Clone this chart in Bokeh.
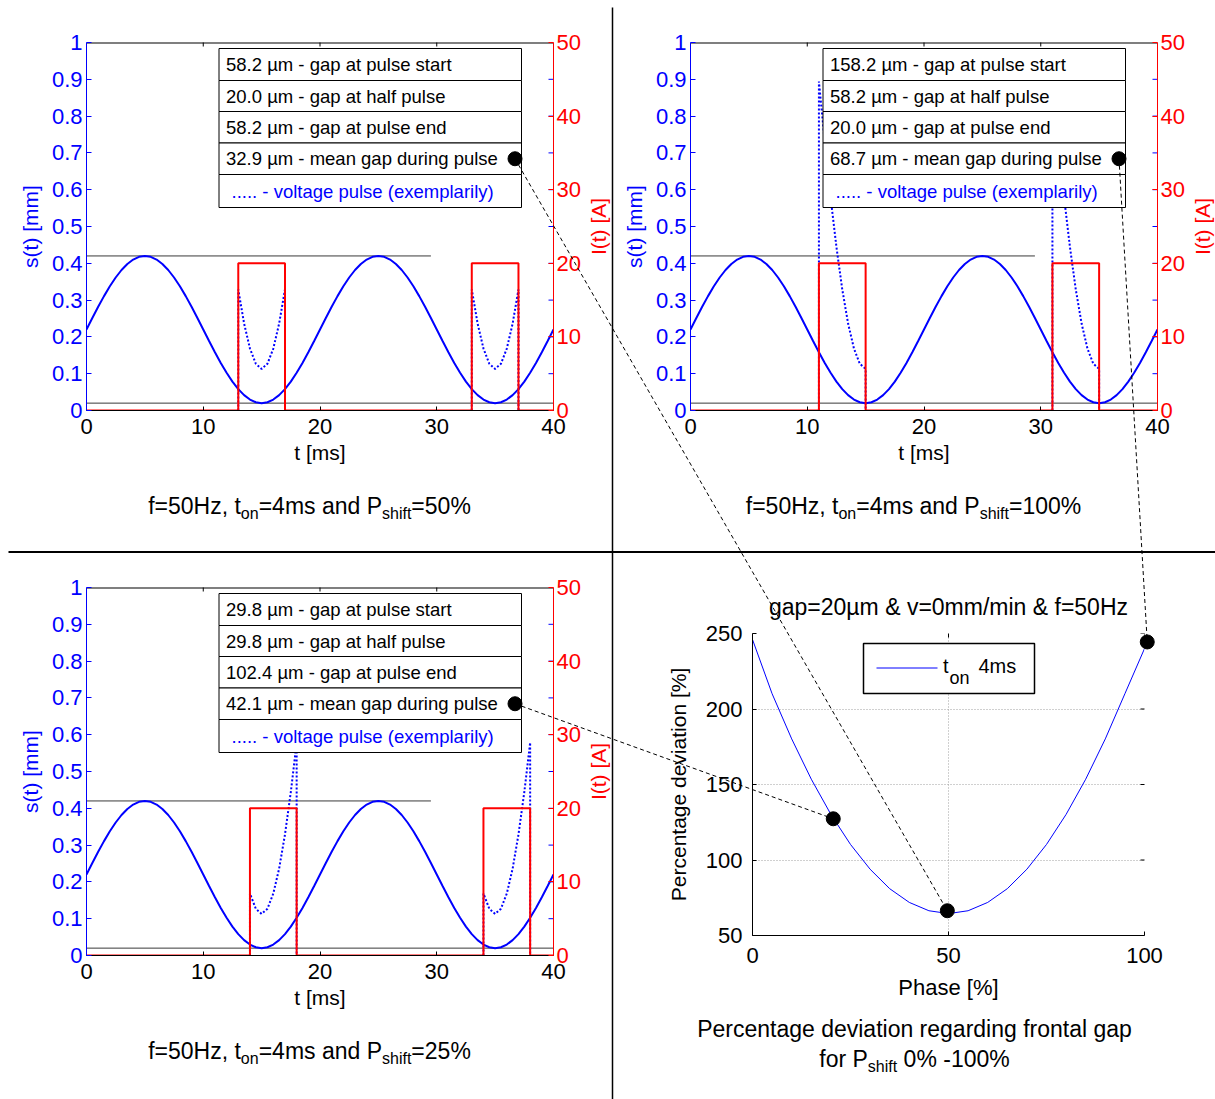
import math

from bokeh.core.properties import value
from bokeh.embed import file_html
from bokeh.models import FixedTicker, Grid, LinearAxis, Range1d
from bokeh.plotting import figure
from bokeh.resources import INLINE

FONT = "Liberation Sans"
BLUE = "#0000ff"
RED = "#ff0000"

# ---------------------------------------------------------------- data
# electrode gap over one vibration period (f = 50 Hz), sampled every 0.5 ms
SAMPLE_STEP_MS = 0.5
GAP_ONE_PERIOD_MM = [
    0.2200, 0.2513, 0.2818, 0.3108, 0.3376, 0.3614, 0.3818, 0.3982, 0.4102, 0.4175,
    0.4200, 0.4175, 0.4102, 0.3982, 0.3818, 0.3614, 0.3376, 0.3108, 0.2818, 0.2513,
    0.2200, 0.1887, 0.1582, 0.1292, 0.1024, 0.0786, 0.0582, 0.0418, 0.0298, 0.0225,
    0.0200, 0.0225, 0.0298, 0.0418, 0.0582, 0.0786, 0.1024, 0.1292, 0.1582, 0.1887,
]
T_END_MS = 40
T_ON_MS = 4
PULSE_CURRENT_A = 20
VOLTAGE_SCALE = 5.65          # dotted voltage pulse, drawn on the gap axis
MAX_GAP_MM = 0.42
MIN_GAP_MM = 0.02
MAX_GAP_LINE_END_MS = 29.5

SHIFT_LABELS = ["50%", "100%", "25%"]
PULSE_STARTS_MS = [[13, 33], [11, 31], [14, 34]]
GAP_START_UM = [58.2, 158.2, 29.8]
GAP_HALF_UM = [20.0, 58.2, 29.8]
GAP_END_UM = [58.2, 20.0, 102.4]
GAP_MEAN_UM = [32.9, 68.7, 42.1]

PHASE_PCT = [0, 5, 10, 15, 20, 25, 30, 35, 40, 45, 50, 55, 60, 65, 70, 75, 80, 85, 90, 95, 100]
DEVIATION_PCT = [246.0, 210.1, 180.2, 153.5, 130.2, 110.3, 93.9, 81.0, 71.9, 66.4, 64.5,
                 66.4, 71.9, 81.0, 93.9, 110.3, 130.2, 153.5, 180.2, 210.1, 240.0]
MARKED_PHASE = [20.6, 49.7, 100.7]
MARKED_DEV = [127.3, 66.4, 244.4]

S_TICKS = [0, 0.1, 0.2, 0.3, 0.4, 0.5, 0.6, 0.7, 0.8, 0.9, 1]
I_TICKS = [0, 10, 20, 30, 40, 50]
T_TICKS = [0, 10, 20, 30, 40]
PHASE_TICKS = [0, 50, 100]
DEV_TICKS = [50, 100, 150, 200, 250]

# ---------------------------------------------------------------- geometry
FW, FH = 467, 368                      # frame of each gap panel
QUAD_W = [611, 604]
QUAD_H = [551, 548]
# (column, row, frame left, frame top) of the three gap panels
PANELS = [(0, 0, 86, 42), (1, 0, 79, 42), (0, 1, 86, 36)]
BR_LEFT, BR_TOP, BR_W, BR_H = 141, 82, 392, 302

ARIAL_ADV = {
    " ": 278, ",": 278, "-": 333, "%": 889, "=": 584, ".": 278,
    "0": 556, "1": 556, "2": 556, "3": 556, "4": 556, "5": 556, "6": 556, "7": 556,
    "8": 556, "9": 556, "H": 722, "P": 667, "a": 556, "d": 556, "f": 278, "h": 556,
    "i": 222, "m": 833, "n": 556, "o": 556, "r": 333, "s": 500, "t": 278, "z": 500,
}


def run_width(txt, size):
    return sum(ARIAL_ADV[c] for c in txt) * size / 1000.0


def placed(x, y):
    return {"position": "absolute", "left": f"{x}px", "top": f"{y}px"}


def style_axis(ax, color, size="22px", label_size="21px"):
    ax.axis_line_color = color
    ax.major_tick_line_color = color
    ax.major_label_text_color = color
    ax.major_label_text_font = FONT
    ax.major_label_text_font_size = size
    ax.axis_label_text_font = FONT
    ax.axis_label_text_font_size = label_size
    ax.axis_label_text_font_style = "normal"
    ax.axis_label_text_color = color
    ax.minor_tick_line_color = None
    ax.major_tick_in = 5
    ax.major_tick_out = 0


def gap_panel(k):
    col, row, fl, ft = PANELS[k]
    qw, qh = QUAD_W[col], QUAD_H[row]
    p = figure(frame_width=FW, frame_height=FH,
               min_border_left=fl, min_border_right=qw - fl - FW,
               min_border_top=ft, min_border_bottom=qh - ft - FH,
               x_range=Range1d(0, T_END_MS), y_range=Range1d(0, 1),
               x_axis_location=None, y_axis_location=None,
               output_backend="svg", toolbar_location=None,
               outline_line_color=None, background_fill_color="white",
               border_fill_color="white",
               styles=placed(sum(QUAD_W[:col]), sum(QUAD_H[:row])))
    p.grid.visible = False
    p.extra_y_ranges = {"current": Range1d(0, 50)}

    left = LinearAxis(ticker=FixedTicker(ticks=S_TICKS), axis_label="s(t) [mm]",
                      major_label_overrides={0: "0", 1: "1"})
    style_axis(left, BLUE)
    left.major_label_standoff = 4
    left.axis_label_standoff = 7
    p.add_layout(left, "left")

    right = LinearAxis(y_range_name="current", ticker=FixedTicker(ticks=I_TICKS))
    style_axis(right, RED)
    right.major_label_standoff = 3
    p.add_layout(right, "right")

    below = LinearAxis(ticker=FixedTicker(ticks=T_TICKS), axis_label="t [ms]")
    style_axis(below, "black")
    below.major_tick_in = 4
    below.major_label_standoff = 8
    below.axis_label_standoff = 4
    p.add_layout(below, "below")

    # upper box edge with its time ticks, and gap-axis ticks repeated on the right
    p.line([0, T_END_MS], [1, 1], line_color="black", line_width=2)
    p.scatter(T_TICKS[1:-1], [1] * 3, marker="dash", angle=math.pi / 2, size=8,
              line_color="black", line_width=1)
    p.scatter([T_END_MS] * 9, S_TICKS[1:-1], marker="dash", size=10,
              line_color=BLUE, line_width=1)

    n = int(T_END_MS / SAMPLE_STEP_MS) + 1
    t = [i * SAMPLE_STEP_MS for i in range(n)]
    gap = [GAP_ONE_PERIOD_MM[i % len(GAP_ONE_PERIOD_MM)] for i in range(n)]

    p.line([0, MAX_GAP_LINE_END_MS], [MAX_GAP_MM, MAX_GAP_MM], line_color="#3a3a3a", line_width=1)
    p.line([0, T_END_MS], [MIN_GAP_MM, MIN_GAP_MM], line_color="#3a3a3a", line_width=1)
    p.line(t, gap, line_color=BLUE, line_width=2)

    # dotted voltage pulse during each current pulse
    vx, vy = [], []
    for s in PULSE_STARTS_MS[k]:
        vx.append(s)
        vy.append(0)
        for ti, gi in zip(t, gap):
            if s <= ti <= s + T_ON_MS:
                vx.append(ti)
                vy.append(VOLTAGE_SCALE * gi)
        vx += [s + T_ON_MS, float("nan")]
        vy += [0, float("nan")]
    p.line(vx, vy, line_color=BLUE, line_width=2, line_dash="2 2")

    # rectangular current pulses
    cx, cy = [0], [0]
    for s in PULSE_STARTS_MS[k]:
        cx += [s, s, s + T_ON_MS, s + T_ON_MS]
        cy += [0, PULSE_CURRENT_A, PULSE_CURRENT_A, 0]
    cx.append(T_END_MS)
    cy.append(0)
    p.line(cx, cy, y_range_name="current", line_color=RED, line_width=2)
    return p


panels = [gap_panel(k) for k in range(3)]

# ---------------------------------------------------------------- deviation panel
br = figure(frame_width=BR_W, frame_height=BR_H,
            min_border_left=BR_LEFT, min_border_right=QUAD_W[1] - BR_LEFT - BR_W,
            min_border_top=BR_TOP, min_border_bottom=QUAD_H[1] - BR_TOP - BR_H,
            x_range=Range1d(0, 100), y_range=Range1d(50, 250),
            x_axis_location=None, y_axis_location=None,
            output_backend="svg", toolbar_location=None,
            outline_line_color=None, background_fill_color="white",
            border_fill_color="white", styles=placed(QUAD_W[0], QUAD_H[0]))
br.grid.visible = False
br.add_layout(Grid(dimension=1, ticker=FixedTicker(ticks=DEV_TICKS[1:]),
                   grid_line_color="#a0a0a0", grid_line_dash="1 2"))
br.add_layout(Grid(dimension=0, ticker=FixedTicker(ticks=PHASE_TICKS[1:]),
                   grid_line_color="#a0a0a0", grid_line_dash="1 2"))
ly = LinearAxis(ticker=FixedTicker(ticks=DEV_TICKS), axis_label="Percentage deviation [%]")
style_axis(ly, "black")
ly.major_tick_in = 4
ly.major_label_standoff = 10
ly.axis_label_standoff = 13
br.add_layout(ly, "left")
bx = LinearAxis(ticker=FixedTicker(ticks=PHASE_TICKS), axis_label="Phase [%]")
style_axis(bx, "black", label_size="22px")
bx.major_tick_in = 4
bx.major_label_standoff = 12
bx.axis_label_standoff = 9
br.add_layout(bx, "below")
br.scatter([100] * 5, DEV_TICKS, marker="dash", size=8, line_color="black")
br.scatter(PHASE_TICKS, [250] * 3, marker="dash", angle=math.pi / 2, size=8, line_color="black")
br.line(PHASE_PCT, DEVIATION_PCT, line_color=BLUE, line_width=1)

# ---------------------------------------------------------------- overlay
ov = figure(width=1215, height=1099, x_range=Range1d(0, 1215), y_range=Range1d(1099, 0),
            min_border=0, x_axis_location=None, y_axis_location=None,
            output_backend="svg", toolbar_location=None, outline_line_color=None,
            background_fill_color=None, border_fill_color=None, styles=placed(0, 0))
ov.grid.visible = False


def txt(x, y, s, size, color="black", align="left", angle=0.0):
    ov.text(x=[x], y=[y], text=[s], text_font=value(FONT), text_font_size=f"{size}px",
            text_color=color, text_align=align, text_baseline="middle", angle=angle)


def runs_centered(runs, cx, baseline):
    """Text runs (string, size, drop) laid out left to right around cx."""
    x = cx - sum(run_width(r, s) for r, s, _ in runs) / 2
    for r, s, dy in runs:
        lead = len(r) - len(r.lstrip(" "))
        txt(x + run_width(r[:lead], s), baseline + dy - 0.35 * s, r.lstrip(" "), s)
        x += run_width(r, s)


def page_frame(k):
    col, row, fl, ft = PANELS[k]
    return sum(QUAD_W[:col]) + fl, sum(QUAD_H[:row]) + ft


br_px0 = QUAD_W[0] + BR_LEFT
br_py0 = QUAD_H[0] + BR_TOP


def br_page(phase, dev):
    return br_px0 + phase / 100.0 * BR_W, br_py0 + BR_H - (dev - 50) / 200.0 * BR_H


# quadrant separators
ov.segment(x0=[612], y0=[7], x1=[612], y1=[1099], line_color="black", line_width=1.5)
ov.segment(x0=[8], y0=[551.5], x1=[1215], y1=[551.5], line_color="black", line_width=2)

ROW_EDGES = [0, 32, 63, 94.5, 126, 159]
legend_dots = []
for k in range(3):
    fx, fy = page_frame(k)
    bl_, bt_ = fx + 132.5, fy + 6
    br_ = bl_ + 302.5
    rows = [f"{GAP_START_UM[k]:.1f} µm - gap at pulse start",
            f"{GAP_HALF_UM[k]:.1f} µm - gap at half pulse",
            f"{GAP_END_UM[k]:.1f} µm - gap at pulse end",
            f"{GAP_MEAN_UM[k]:.1f} µm - mean gap during pulse",
            "..... - voltage pulse (exemplarily)"]
    ov.quad(left=[bl_] * 5, right=[br_] * 5,
            top=[bt_ + e for e in ROW_EDGES[:-1]], bottom=[bt_ + e for e in ROW_EDGES[1:]],
            fill_color="white", line_color="black", line_width=1)
    for i, s in enumerate(rows):
        mid = bt_ + (ROW_EDGES[i] + ROW_EDGES[i + 1]) / 2
        if i < 4:
            txt(bl_ + 7, mid, s, 18.5)
        else:
            txt(bl_ + 12.5, mid, s, 18.5, color=BLUE)
    legend_dots.append((br_ - 6.5, bt_ + (ROW_EDGES[3] + ROW_EDGES[4]) / 2))

    # current axis title
    txt(fx + FW + 45, fy + FH / 2, "I(t) [A]", 21, color=RED, align="center", angle=math.pi / 2)

    # caption with subscripts
    runs_centered([("f=50Hz, t", 23, 0), ("on", 16, 4.5), ("=4ms and P", 23, 0),
                   ("shift", 16, 4.5), ("=" + SHIFT_LABELS[k], 23, 0)],
                  fx + 223, fy + FH + 104)

# deviation panel: title, legend, caption
txt(br_px0 + BR_W / 2, br_py0 - 27, "gap=20µm & v=0mm/min & f=50Hz", 23, align="center")
ov.quad(left=[br_px0 + 111], right=[br_px0 + 282], top=[br_py0 + 10], bottom=[br_py0 + 60],
        fill_color="white", line_color="black", line_width=1.5)
ov.segment(x0=[br_px0 + 124], y0=[br_py0 + 34.5], x1=[br_px0 + 185], y1=[br_py0 + 34.5],
           line_color=BLUE, line_width=1)
txt(br_px0 + 190.5, br_py0 + 32.3, "t", 20)
txt(br_px0 + 197, br_py0 + 44, "on", 18)
txt(br_px0 + 226, br_py0 + 32.3, "4ms", 20)

cap_cx = br_px0 + 162
txt(cap_cx, br_py0 + BR_H + 101 - 8, "Percentage deviation regarding frontal gap", 23, align="center")
runs_centered([("for P", 23, 0), ("shift", 16, 4.5), (" 0% -100%", 23, 0)],
              cap_cx, br_py0 + BR_H + 131.7)

# connectors from the mean-gap entries to the deviation curve
targets = [br_page(MARKED_PHASE[1], MARKED_DEV[1]),
           br_page(MARKED_PHASE[2], MARKED_DEV[2]),
           br_page(MARKED_PHASE[0], MARKED_DEV[0])]
ov.segment(x0=[d[0] for d in legend_dots], y0=[d[1] for d in legend_dots],
           x1=[t_[0] for t_ in targets], y1=[t_[1] for t_ in targets],
           line_color="black", line_width=1, line_dash="4 3")
ov.scatter([d[0] for d in legend_dots] + [t_[0] for t_ in targets],
           [d[1] for d in legend_dots] + [t_[1] for t_ in targets],
           size=14, color="black")

roots = [panels[0], panels[1], panels[2], br, ov]
open("out.html", "w").write(file_html(roots, INLINE))
